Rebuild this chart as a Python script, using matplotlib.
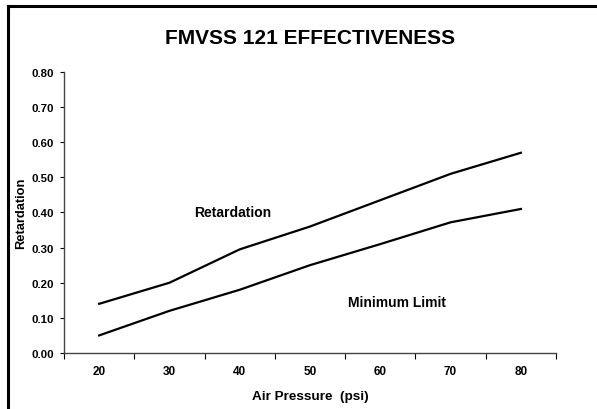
import matplotlib.pyplot as plt
import numpy as np

pressure = [20, 30, 40, 50, 60, 70, 80]
retardation = [0.14, 0.20, 0.295, 0.36, 0.435, 0.51, 0.57]
minimum_limit = [0.05, 0.12, 0.18, 0.25, 0.31, 0.372, 0.41]
y_ticks = [0.0, 0.1, 0.2, 0.3, 0.4, 0.5, 0.6, 0.7, 0.8]

plt.rcParams['font.family'] = ['Liberation Sans', 'DejaVu Sans']
plt.rcParams['font.weight'] = 'bold'

fig = plt.figure(figsize=(5.97, 4.10), dpi=100)
ax = fig.add_axes([0.1072, 0.1366, 0.8241, 0.6854])

# category positions, Excel style
pos = np.arange(1, len(pressure) + 1)
ax.plot(pos, retardation, color='black', lw=1.6)
ax.plot(pos, minimum_limit, color='black', lw=1.6)

ax.set_xlim(0.5, len(pressure) + 0.5)
ax.set_ylim(0, 0.8)
ax.set_xticks(np.arange(0.5, len(pressure) + 1, 1))
ax.set_xticklabels([])
ax.set_xticks(pos, minor=True)
ax.set_xticklabels([str(p) for p in pressure], minor=True, fontsize=8.5, fontweight='bold')
ax.tick_params(axis='x', which='minor', length=0, pad=9)
ax.tick_params(axis='x', which='major', length=4, direction='out', width=0.8)
ax.set_yticks(y_ticks)
ax.set_yticklabels([f'{v:.2f}' for v in y_ticks], fontsize=8.2, fontweight='bold')
ax.tick_params(axis='y', length=3, width=0.8, pad=4)

for s in ['top', 'right']:
    ax.spines[s].set_visible(False)
for s in ['left', 'bottom']:
    ax.spines[s].set_color('#444444')
    ax.spines[s].set_linewidth(1.0)

ax.set_xlabel('Air Pressure  (psi)', fontsize=9.7, fontweight='bold', labelpad=9)
ax.set_ylabel('Retardation', fontsize=9.3, fontweight='bold', labelpad=3)

ax.text(2.9, 0.40, 'Retardation', fontsize=10, fontweight='bold', ha='center', va='center')
ax.text(5.24, 0.145, 'Minimum Limit', fontsize=10, fontweight='bold', ha='center', va='center')

fig.text(0.519, 0.907, 'FMVSS 121 EFFECTIVENESS', fontsize=15, fontweight='bold', ha='center', va='center')

# frame lines (top and left)
fig.add_artist(plt.Line2D([0.014, 1.0], [0.982, 0.982], color='black', lw=2.2, transform=fig.transFigure))
fig.add_artist(plt.Line2D([0.014, 0.014], [0.0, 0.982], color='black', lw=2.2, transform=fig.transFigure))

fig.savefig('out.png', dpi=100)
